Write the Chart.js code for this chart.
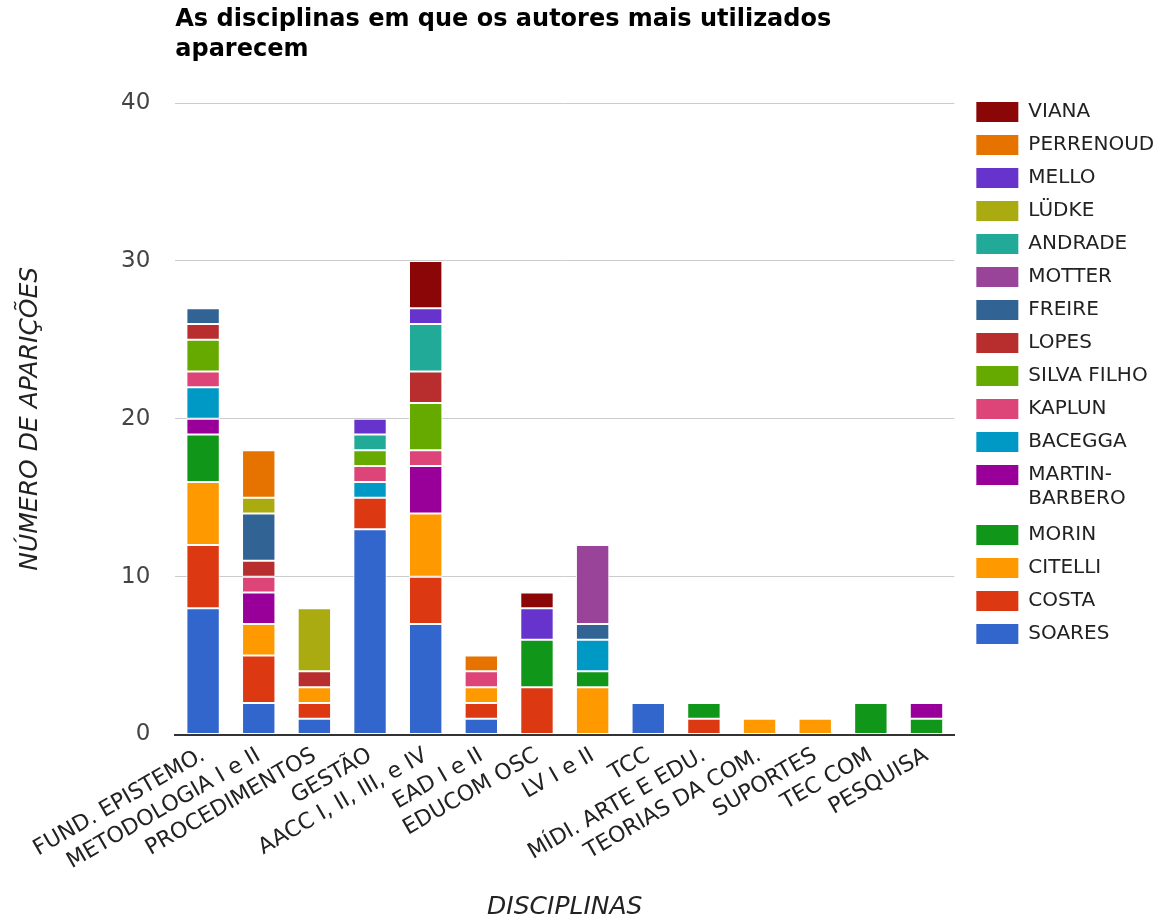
<!DOCTYPE html>
<html>
<head>
<meta charset="utf-8">
<script src="https://cdn.jsdelivr.net/npm/chart.js@4.4.1/dist/chart.umd.min.js"></script>
<style>
  body { margin: 0; background: #fff; }
  #wrap { width: 1166px; height: 922px; }
</style>
</head>
<body>
<div id="wrap"><canvas id="autores"></canvas></div>
<script>
// disciplinas (eixo X)
const disciplinas = ['FUND. EPISTEMO.', 'METODOLOGIA I e II', 'PROCEDIMENTOS', 'GESTÃO',
  'AACC I, II, III, e IV', 'EAD I e II', 'EDUCOM OSC', 'LV I e II', 'TCC',
  'MÍDI. ARTE E EDU.', 'TEORIAS DA COM.', 'SUPORTES', 'TEC COM', 'PESQUISA'];

// aparições de cada autor por disciplina
const soares        = [8, 2, 1, 13, 7, 1, 0, 0, 2, 0, 0, 0, 0, 0];
const costa         = [4, 3, 1, 2, 3, 1, 3, 0, 0, 1, 0, 0, 0, 0];
const citelli       = [4, 2, 1, 0, 4, 1, 0, 3, 0, 0, 1, 1, 0, 0];
const morin         = [3, 0, 0, 0, 0, 0, 3, 1, 0, 1, 0, 0, 2, 1];
const martinBarbero = [1, 2, 0, 0, 3, 0, 0, 0, 0, 0, 0, 0, 0, 1];
const bacegga       = [2, 0, 0, 1, 0, 0, 0, 2, 0, 0, 0, 0, 0, 0];
const kaplun        = [1, 1, 0, 1, 1, 1, 0, 0, 0, 0, 0, 0, 0, 0];
const silvaFilho    = [2, 0, 0, 1, 3, 0, 0, 0, 0, 0, 0, 0, 0, 0];
const lopes         = [1, 1, 1, 0, 2, 0, 0, 0, 0, 0, 0, 0, 0, 0];
const freire        = [1, 3, 0, 0, 0, 0, 0, 1, 0, 0, 0, 0, 0, 0];
const motter        = [0, 0, 0, 0, 0, 0, 0, 5, 0, 0, 0, 0, 0, 0];
const andrade       = [0, 0, 0, 1, 3, 0, 0, 0, 0, 0, 0, 0, 0, 0];
const ludke         = [0, 1, 4, 0, 0, 0, 0, 0, 0, 0, 0, 0, 0, 0];
const mello         = [0, 0, 0, 1, 1, 0, 2, 0, 0, 0, 0, 0, 0, 0];
const perrenoud     = [0, 3, 0, 0, 0, 1, 0, 0, 0, 0, 0, 0, 0, 0];
const viana         = [0, 0, 0, 0, 3, 0, 1, 0, 0, 0, 0, 0, 0, 0];

const yTicks = [0, 10, 20, 30, 40];

const autores = [
  ['SOARES', soares, '#3366cc'],
  ['COSTA', costa, '#dc3912'],
  ['CITELLI', citelli, '#ff9900'],
  ['MORIN', morin, '#109618'],
  ['MARTIN-BARBERO', martinBarbero, '#990099'],
  ['BACEGGA', bacegga, '#0099c6'],
  ['KAPLUN', kaplun, '#dd4477'],
  ['SILVA FILHO', silvaFilho, '#66aa00'],
  ['LOPES', lopes, '#b82e2e'],
  ['FREIRE', freire, '#316395'],
  ['MOTTER', motter, '#994499'],
  ['ANDRADE', andrade, '#22aa99'],
  ['LÜDKE', ludke, '#aaaa11'],
  ['MELLO', mello, '#6633cc'],
  ['PERRENOUD', perrenoud, '#e67300'],
  ['VIANA', viana, '#8b0707']
];

Chart.defaults.font.family = '"DejaVu Sans", Verdana, sans-serif';
Chart.defaults.color = '#222';

new Chart(document.getElementById('autores'), {
  type: 'bar',
  data: {
    labels: disciplinas,
    datasets: autores.map(([nome, valores, cor]) => ({
      label: nome,
      data: valores,
      backgroundColor: cor,
      borderColor: '#ffffff',
      borderWidth: 1,
      borderSkipped: false,
      barPercentage: 0.6,
      categoryPercentage: 1
    }))
  },
  options: {
    responsive: true,
    maintainAspectRatio: false,
    animation: false,
    layout: { padding: { top: 0, right: 10, left: 0, bottom: 0 } },
    plugins: {
      tooltip: { enabled: false },
      title: {
        display: true,
        fullSize: false,
        align: 'start',
        text: ['As disciplinas em que os autores mais utilizados', 'aparecem'],
        color: '#000',
        font: { size: 24, weight: 'bold', lineHeight: 1.25 },
        padding: { top: 5, bottom: 38 }
      },
      legend: {
        position: 'right',
        align: 'start',
        reverse: true,
        // espaço vazio para alinhar a legenda com o topo do gráfico
        title: { display: true, text: '', font: { size: 10, lineHeight: 1 }, padding: { top: 79, bottom: 0 } },
        labels: {
          boxWidth: 42,
          boxHeight: 20,
          padding: 13,
          color: '#222',
          font: { size: 20, lineHeight: 1.175 },
          generateLabels(chart) {
            const items = Chart.defaults.plugins.legend.labels.generateLabels(chart);
            items.forEach(it => {
              it.lineWidth = 0;
              if (it.text.includes('-')) {
                const i = it.text.indexOf('-') + 1;
                it.text = [it.text.slice(0, i), it.text.slice(i)];
              }
            });
            return items;
          }
        }
      }
    },
    scales: {
      x: {
        stacked: true,
        grid: { display: false },
        border: { color: '#333', width: 2 },
        ticks: {
          minRotation: 30,
          maxRotation: 30,
          autoSkip: false,
          padding: 0,
          color: '#222',
          font: { size: 22 }
        },
        title: {
          display: true,
          text: 'DISCIPLINAS',
          color: '#222',
          font: { size: 25, style: 'italic' },
          padding: { top: 17, bottom: 0 }
        }
      },
      y: {
        stacked: true,
        min: 0,
        max: 40,
        afterBuildTicks(axis) {
          axis.ticks = yTicks.map(v => ({ value: v }));
        },
        grid: { color: '#cccccc', drawTicks: false },
        border: { display: false },
        ticks: {
          padding: 25,
          color: '#444',
          font: { size: 23 }
        },
        title: {
          display: true,
          text: 'NÚMERO DE APARIÇÕES',
          color: '#222',
          font: { size: 25, style: 'italic' },
          padding: { top: 15, bottom: 51 }
        }
      },
      // margem vazia entre a área das barras e a legenda
      margem: {
        position: 'right',
        grid: { display: false },
        border: { display: false },
        ticks: { display: false },
        afterFit(axis) {
          axis.width = 9;
        }
      }
    }
  }
});
</script>
</body>
</html>
